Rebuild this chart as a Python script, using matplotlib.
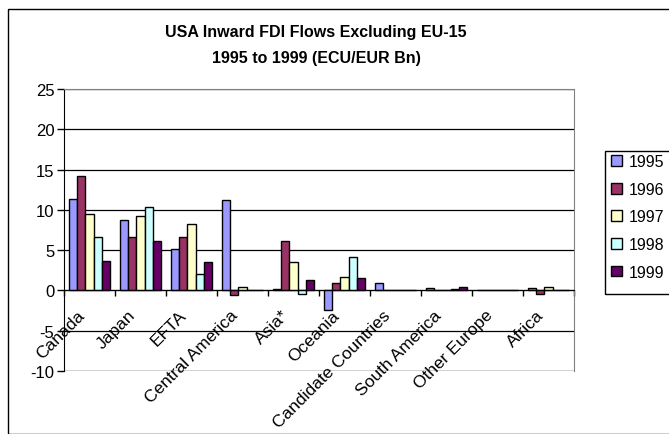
import matplotlib
matplotlib.use("Agg")
import matplotlib.pyplot as plt
from matplotlib.patches import Rectangle, Patch
import numpy as np

plt.rcParams['font.family'] = ['Liberation Sans', 'DejaVu Sans']
plt.rcParams['axes.unicode_minus'] = False

categories = ["Canada", "Japan", "EFTA", "Central America", "Asia*", "Oceania",
              "Candidate Countries", "South America", "Other Europe", "Africa"]
years = ["1995", "1996", "1997", "1998", "1999"]
v1995 = [11.4, 8.8, 5.2, 11.2, 0.2, -2.4, 0.95, 0.35, 0.0, 0.35]
v1996 = [14.2, 6.6, 6.6, -0.6, 6.1, 0.95, 0.1, 0.0, 0.0, -0.4]
v1997 = [9.45, 9.2, 8.3, 0.4, 3.5, 1.7, 0.0, 0.0, 0.0, 0.45]
v1998 = [6.6, 10.4, 2.1, 0.0, -0.4, 4.1, 0.0, 0.15, 0.1, 0.0]
v1999 = [3.7, 6.1, 3.5, 0.0, 1.3, 1.5, 0.0, 0.4, 0.0, 0.0]
series = [v1995, v1996, v1997, v1998, v1999]
colors = ["#9999FF", "#993366", "#FFFFCC", "#CCFFFF", "#660066"]

W, H = 669, 435
fig = plt.figure(figsize=(W / 100, H / 100), dpi=100)

# outer chart frame
fig.patches.append(Rectangle((8 / W, 0), 1.0, 1 - 10 / H, transform=fig.transFigure,
                             fill=False, edgecolor="black", linewidth=1.0))

ax = fig.add_axes([64 / W, 1 - 372 / H, 510 / W, (372 - 90) / H])
n = len(categories)
x = np.arange(n)
bw = 0.157
for k, (vals, c) in enumerate(zip(series, colors)):
    ax.bar(x - 2 * bw + k * bw, vals, width=bw, color=c, edgecolor="black",
           linewidth=1.0, zorder=3)

ax.set_xlim(-0.5, n - 0.5)
ax.set_ylim(-10, 25)
ax.set_yticks(np.arange(-10, 26, 5))
ax.tick_params(axis='y', labelsize=12, length=5, width=1, direction='out', pad=2)
ax.yaxis.grid(True, color="black", linewidth=0.9, zorder=0)
ax.set_axisbelow(True)

for s in ['top', 'right']:
    ax.spines[s].set_color("#808080")
ax.spines['left'].set_color("black")
ax.spines['bottom'].set_position(('data', 0))
ax.spines['bottom'].set_color("black")
ax.spines['bottom'].set_zorder(4)

# ticks at category boundaries on the zero line
ax.set_xticks(np.arange(-0.5, n, 1.0))
ax.set_xticklabels([])
ax.tick_params(axis='x', length=4, width=1, direction='out')

for i, lab in enumerate(categories):
    ax.annotate(lab, xy=(i, 0), xycoords='data', xytext=(-9, -12),
                textcoords='offset points', rotation=45, ha='right', va='top',
                rotation_mode='anchor', fontsize=12.5, zorder=5)

# bottom border line of plot area
ax.axhline(-10, color="#808080", linewidth=0.9, zorder=1)

fig.text(316 / W, 1 - 33 / H, "USA Inward FDI Flows Excluding EU-15",
         ha='center', va='center', fontsize=11.5, fontweight='bold')
fig.text(316 / W, 1 - 58 / H, "1995 to 1999 (ECU/EUR Bn)",
         ha='center', va='center', fontsize=11.5, fontweight='bold')

# legend box
fig.patches.append(Rectangle((605 / W, 1 - 295 / H), 80 / W, (295 - 152) / H,
                             transform=fig.transFigure, fill=False,
                             edgecolor="black", linewidth=1.0))
handles = [Patch(facecolor=c, edgecolor='black', linewidth=1.0) for c in colors]
leg = fig.legend(handles, years, loc='upper left',
                 bbox_to_anchor=(608 / W, 1 - 152 / H), fontsize=11.5,
                 frameon=False,
                 handlelength=0.65, handleheight=0.65, handletextpad=0.45,
                 labelspacing=0.79, borderpad=0.2, borderaxespad=0)

fig.savefig("out.png", dpi=100)
